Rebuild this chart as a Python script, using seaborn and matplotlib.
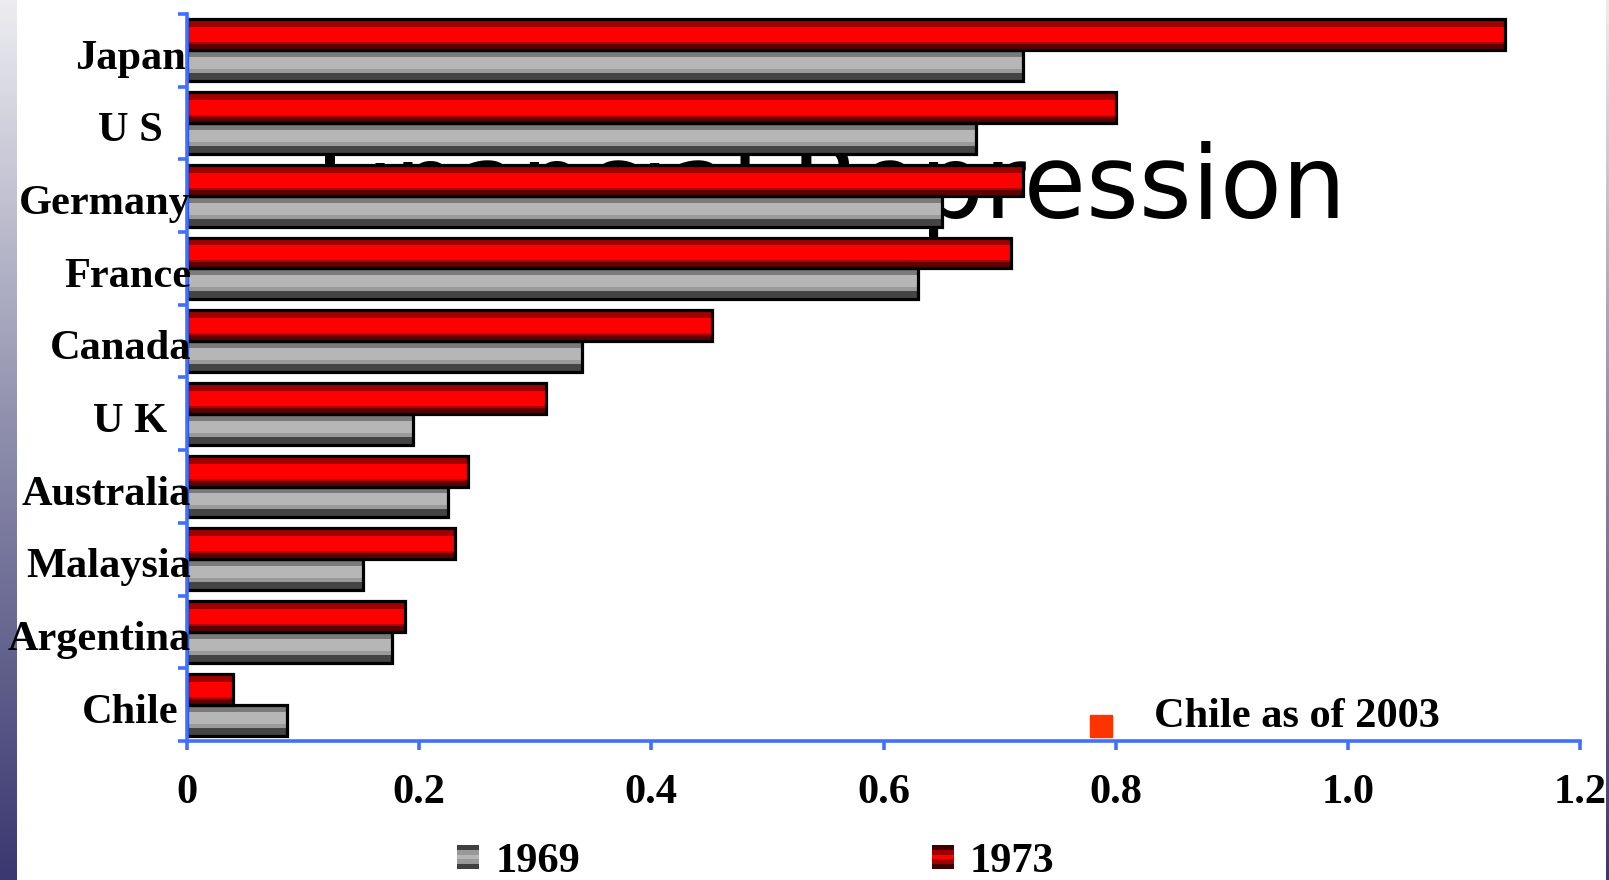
import numpy as np
import pandas as pd
import matplotlib
matplotlib.use("Agg")
import matplotlib.pyplot as plt
import matplotlib.transforms as mtransforms
from matplotlib.patches import Rectangle
from matplotlib.legend_handler import HandlerBase
from matplotlib.colors import to_rgb, LinearSegmentedColormap
import seaborn as sns

# ---- data ----
countries = ["Japan", "U S", "Germany", "France", "Canada",
             "U K", "Australia", "Malaysia", "Argentina", "Chile"]
ratio_1969 = [0.72, 0.68, 0.65, 0.63, 0.34, 0.195, 0.225, 0.152, 0.177, 0.086]
ratio_1973 = [1.135, 0.80, 0.72, 0.71, 0.452, 0.309, 0.242, 0.231, 0.188, 0.040]
years = ["1969", "1973"]
chile_2003 = 0.787
x_ticks = [0, 0.2, 0.4, 0.6, 0.8, 1.0, 1.2]
x_tick_labels = ["0", "0.2", "0.4", "0.6", "0.8", "1.0", "1.2"]
title_text = "Financial Repression"
note_text = "Chile as of 2003"

df = pd.DataFrame({
    "country": countries * 2,
    "year": ["1969"] * len(countries) + ["1973"] * len(countries),
    "value": ratio_1969 + ratio_1973,
})

# ---- style ----
sns.set_theme(style="white")
plt.rcParams["font.family"] = ["Liberation Serif", "DejaVu Serif"]
plt.rcParams["font.weight"] = "bold"
plt.rcParams["text.color"] = "black"

AXIS_BLUE = "#4170ff"
FS = 30.5
bold = dict(family="Liberation Serif", weight="bold", size=FS, color="black")


def expand(bands, n=100):
    """Turn (colour, weight) bands into an n-row RGB strip."""
    total = sum(w for _, w in bands)
    rows = []
    for c, w in bands:
        rows += [to_rgb(c)] * max(1, int(round(n * w / total)))
    return np.array(rows)[:, None, :]


bar_bands = {
    "1973": [("#a00000", 27), ("#ff0000", 47), ("#b00000", 6), ("#600000", 20)],
    "1969": [("#7a7a7a", 22), ("#b6b6b6", 40), ("#9a9a9a", 12), ("#444444", 26)],
}
swatch_bands = {
    "1969": ["#404040", "#999999", "#b5b5b5", "#999999", "#404040"],
    "1973": ["#400000", "#a00000", "#ff0000", "#a00000", "#400000"],
}

W, H = 1609, 880
fig = plt.figure(figsize=(W / 100, H / 100), dpi=100, facecolor="white")

# slide edge strips
edge_cmap = LinearSegmentedColormap.from_list("edge", ["#ececf0", "#8c8cab", "#3a3870"])
grad = np.linspace(0, 1, 256)[:, None]
for rect in ([0, 0, 17 / W, 1], [1606 / W, 0, 3 / W, 1]):
    sax = fig.add_axes(rect)
    sax.imshow(grad, cmap=edge_cmap, aspect="auto", interpolation="bilinear")
    sax.set_axis_off()

ax = fig.add_axes([187 / W, 1 - 741 / H, (1580 - 187) / W, (741 - 14) / H])
ax.set_facecolor("white")

sns.barplot(data=df, y="country", x="value", hue="year", hue_order=["1973", "1969"],
            order=countries, orient="h", width=0.85, palette=["#ff0000", "#b0b0b0"],
            saturation=1, legend=False, ax=ax)

# striped cylinder fill inside every bar, black outline on top
for container, year in zip(ax.containers, ["1973", "1969"]):
    strip = expand(bar_bands[year])
    for bar in container:
        x0, y0, w, h = bar.get_x(), bar.get_y(), bar.get_width(), bar.get_height()
        ax.imshow(strip, extent=(x0, x0 + w, y0 + h, y0), aspect="auto",
                  interpolation="nearest", zorder=2)
        bar.set_facecolor("none")
        bar.set_edgecolor("black")
        bar.set_linewidth(2.3)
        bar.set_zorder(3)

ax.set_xlim(0, 1.2)
ax.set_ylim(len(countries) - 0.5, -0.5)
ax.set_xlabel("")
ax.set_ylabel("")

# title sits behind the bars
ax.text(1346 / W, 1 - 218 / H, title_text, transform=fig.transFigure, ha="right",
        va="baseline", fontsize=73, family="DejaVu Sans", weight="normal",
        color="black", zorder=1, clip_on=False)

# axes, ticks
for side in ("top", "right"):
    ax.spines[side].set_visible(False)
for side in ("left", "bottom"):
    ax.spines[side].set_color(AXIS_BLUE)
    ax.spines[side].set_linewidth(2.6)
    ax.spines[side].set_zorder(4)

ax.set_xticks(x_ticks)
ax.set_xticklabels(x_tick_labels, fontdict=bold)
ax.tick_params(axis="x", which="major", bottom=True, direction="out", length=6.5,
               width=2.6, color=AXIS_BLUE, pad=17, labelcolor="black")
ax.set_yticks(range(len(countries)))
ax.set_yticklabels([])
ax.set_yticks(np.arange(-0.5, len(countries), 1.0), minor=True)
ax.tick_params(axis="y", which="major", left=False, length=0)
ax.tick_params(axis="y", which="minor", left=True, direction="out", length=6.5,
               width=2.6, color=AXIS_BLUE)
ax.grid(False)

# category labels: centred in the margin, pushed left when too wide
fig.canvas.draw()
renderer = fig.canvas.get_renderer()
lab_tr = mtransforms.blended_transform_factory(fig.transFigure, ax.transData)
for i, name in enumerate(countries):
    t = ax.text(130 / W, i + 0.25, name, transform=lab_tr, ha="center",
                va="baseline", clip_on=False, zorder=5, **bold)
    wpx = t.get_window_extent(renderer).width
    if 130 + wpx / 2 > 191:
        t.set_x(191 / W)
        t.set_ha("right")

# Chile 2003 marker and note
ax.plot([chile_2003], [len(countries) - 1 + 0.29], marker="s", markersize=15.8,
        color="#ff3300", linestyle="none", clip_on=False, zorder=5)
ax.text(0.833, len(countries) - 1 + 0.314, note_text, ha="left", va="baseline",
        zorder=5, **bold)


class StripeHandler(HandlerBase):
    def __init__(self, colors):
        super().__init__()
        self.colors = colors

    def create_artists(self, legend, orig_handle, xdescent, ydescent, width,
                       height, fontsize, trans):
        n = len(self.colors)
        arts = []
        for k, c in enumerate(self.colors):
            arts.append(Rectangle((-xdescent, -ydescent + height * (n - 1 - k) / n),
                                  width, height / n, facecolor=c, edgecolor="none",
                                  transform=trans))
        return arts


handles = [Rectangle((0, 0), 1, 1) for _ in years]
leg = fig.legend(handles, years, loc="center", bbox_to_anchor=(756 / W, 1 - 862 / H),
                 ncol=2, frameon=False,
                 prop=dict(family="Liberation Serif", weight="bold", size=FS),
                 handlelength=0.52, handleheight=0.52, handletextpad=0.38,
                 columnspacing=8.3, borderpad=0,
                 handler_map={h: StripeHandler(swatch_bands[y]) for h, y in zip(handles, years)})
for txt in leg.get_texts():
    txt.set_color("black")

fig.savefig("out.png", dpi=100, facecolor="white")
